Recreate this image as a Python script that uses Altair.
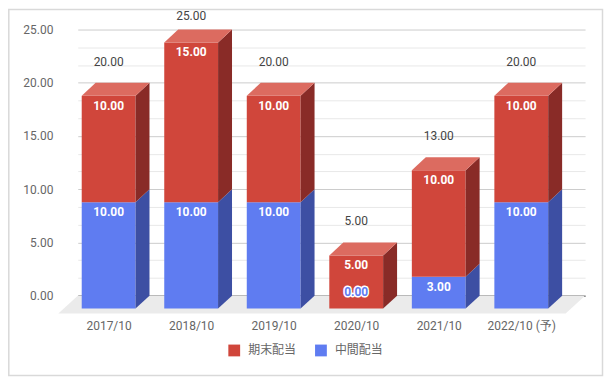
import altair as alt
import pandas as pd

# ---- data ----
categories = ["2017/10", "2018/10", "2019/10", "2020/10", "2021/10", "2022/10 (予)"]
interim = [10, 10, 10, 0, 3, 10]      # 中間配当 (bottom, blue)
year_end = [10, 15, 10, 5, 10, 10]    # 期末配当 (top, red)
stack_order = ["中間配当", "期末配当"]
legend_order = ["期末配当", "中間配当"]

# ---- style ----
FRONT = {"中間配当": "#5f7cf1", "期末配当": "#d0463b"}
SIDE = {"中間配当": "#3d4fa3", "期末配当": "#892b27"}
TOP = "#dc6b60"
FONT = "Roboto, 'Noto Sans CJK JP', sans-serif"

W, H = 509, 267
X_MIN, X_MAX = -0.374, 5.773
PX_X = W / (X_MAX - X_MIN)
PX_Y = H / 25.0
HW = 27 / PX_X          # half bar width
DX = 14 / PX_X          # 3D depth in x units
DY = 13 / PX_Y          # 3D depth in y units

series_values = {"中間配当": interim, "期末配当": year_end}

fronts, sides, tops, totals = [], [], [], []
for i, cat in enumerate(categories):
    base = 0
    for s in stack_order:
        v = series_values[s][i]
        y0, y1 = base, base + v
        sid = f"{i}-{s}"
        fronts.append(dict(i=i, series=s, v=v, x=i - HW, x2=i + HW,
                           y=y0 - DY, y2=y1 - DY, label=f"{v:.2f}",
                           ly=(y1 - DY - 10 / PX_Y) if v > 0 else (y0 - DY + 17 / PX_Y)))
        sides.append(dict(sid=sid, series=s, x=i + HW, lo=y0 - DY, hi=y1 - DY))
        sides.append(dict(sid=sid, series=s, x=i + HW + DX, lo=y0, hi=y1))
        base = y1
    tops.append(dict(tid=i, y=base - DY, x=i - HW, x2=i + HW))
    tops.append(dict(tid=i, y=base, x=i - HW + DX, x2=i + HW + DX))
    ty = min(base - DY + 34 / PX_Y, 25 + 14 / PX_Y)
    totals.append(dict(i=i, t=base, ty=ty, label=f"{base:.2f}"))

df_front = pd.DataFrame(fronts)
df_side = pd.DataFrame(sides)
df_top = pd.DataFrame(tops)
df_tot = pd.DataFrame(totals)
FD = 18 / PX_Y
FX = 19.5 / PX_X
df_floor = pd.DataFrame([
    dict(y=0, x=X_MIN, x2=X_MAX),
    dict(y=-FD, x=X_MIN - FX, x2=X_MAX - FX),
])

grid_vals = [round(k * 5 / 3, 4) for k in range(16)]
cat_js = "[" + ",".join("'" + c + "'" for c in categories) + "]"

x_scale = alt.Scale(domain=[X_MIN, X_MAX], nice=False, zero=False)
y_scale = alt.Scale(domain=[0, 25], nice=False, zero=False)
x_axis = alt.Axis(values=list(range(len(categories))), labelExpr=f"{cat_js}[datum.value]",
                  title=None, grid=False, ticks=False, tickSize=0, domain=True,
                  domainColor="#333333", domainWidth=1, labelPadding=25,
                  labelFont=FONT, labelFontSize=12, labelColor="#666666",
                  labelFlush=False, labelOverlap=False)
y_axis = alt.Axis(values=grid_vals,
                  labelExpr="abs(datum.value % 5) < 0.01 ? format(datum.value, '.2f') : ''",
                  title=None, grid=True, ticks=False, tickSize=0, domain=False,
                  gridColor={"condition": {"test": "abs(datum.value % 5) < 0.01", "value": "#cccccc"},
                             "value": "#e8e8e8"},
                  labelPadding=25, labelFont=FONT, labelFontSize=12, labelColor="#666666",
                  labelOverlap=False)


def X(f):
    return alt.X(f, type="quantitative", scale=x_scale, axis=x_axis)


def Y(f):
    return alt.Y(f, type="quantitative", scale=y_scale, axis=y_axis, stack=False)


floor = alt.Chart(df_floor).mark_area(orient="horizontal", color="#ebebeb").encode(
    y=Y("y"), x=X("x"), x2="x2")

front = alt.Chart(df_front).mark_rect().encode(
    x=X("x"), x2="x2", y=Y("y"), y2="y2",
    color=alt.Color("series:N", scale=alt.Scale(domain=legend_order,
                                                range=[FRONT[s] for s in legend_order]),
                    legend=alt.Legend(orient="none", legendX=151, legendY=316,
                                      direction="horizontal", title=None,
                                      symbolType="square", symbolSize=140,
                                      symbolStrokeWidth=0, labelFont=FONT,
                                      labelFontSize=12, labelColor="#666666",
                                      columnPadding=18, labelOffset=8, padding=0)))

side_layers = []
for s in stack_order:
    side_layers.append(
        alt.Chart(df_side[df_side.series == s]).mark_area(orient="vertical", color=SIDE[s]).encode(
            x=X("x"), y=Y("lo"), y2="hi", detail="sid:N"))

top = alt.Chart(df_top).mark_area(orient="horizontal", color=TOP).encode(
    y=Y("y"), x=X("x"), x2="x2", detail="tid:N")

pos_df = df_front[df_front.v > 0]
zero_df = df_front[df_front.v == 0]

seg_labels = alt.Chart(pos_df).mark_text(color="white", fontWeight="bold", fontSize=12,
                                         font=FONT, baseline="middle").encode(
    x=X("i"), y=Y("ly"), text="label:N")
zero_halo = alt.Chart(zero_df).mark_text(color="white", stroke="white", strokeWidth=3,
                                         fontWeight="bold", fontSize=12, font=FONT,
                                         baseline="middle").encode(
    x=X("i"), y=Y("ly"), text="label:N")
zero_labels = alt.Chart(zero_df).mark_text(color=FRONT["中間配当"], fontWeight="bold", fontSize=12,
                                           font=FONT, baseline="middle").encode(
    x=X("i"), y=Y("ly"), text="label:N")

tot_labels = alt.Chart(df_tot).mark_text(color="#444444", fontSize=12, font=FONT,
                                         baseline="middle").encode(
    x=X("i"), y=Y("ty"), text="label:N")

border = alt.Chart(alt.Data(values=[{}])).mark_rect(
    fillOpacity=0, stroke="#d9d9d9", strokeWidth=1.5).encode(
    x=alt.value(-69.2), x2=alt.value(526.5), y=alt.value(-20.2), y2=alt.value(347))

chart = alt.layer(floor, front, *side_layers, top, seg_labels, zero_halo, zero_labels,
                  tot_labels, border).properties(
    width=W, height=H,
    padding={"left": 70, "top": 21, "right": 19, "bottom": 81},
    autosize=alt.AutoSizeParams(type="none"),
    background="white",
).configure_view(strokeWidth=0)

chart.save("out.html", embed_options={"renderer": "svg", "actions": False})
